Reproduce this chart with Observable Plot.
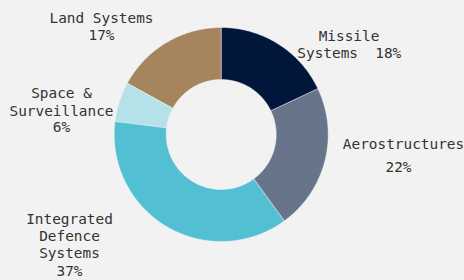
<!DOCTYPE html>
<html><head><meta charset="utf-8">
<script src="https://cdn.jsdelivr.net/npm/d3@7"></script>
<script src="https://cdn.jsdelivr.net/npm/@observablehq/plot@0.6"></script>
<style>
html,body{margin:0;padding:0;background:#f2f2f2;}
#chart svg{display:block;white-space:pre;}
</style>
</head><body><div id="chart"></div>
<script>
// Data (clockwise from 12 o'clock)
const categories = ["Missile Systems", "Aerostructures", "Integrated Defence Systems", "Space & Surveillance", "Land Systems"];
const shares = [18, 22, 37, 6, 17];
const sliceColors = ["#00163a", "#67748a", "#52bfd2", "#b5e1e8", "#a6845d"];

// Label text lines (layout kept separate from the data)
const labelLines = [
  {text: "Missile", x: 348.5, y: 40.7},
  {text: `Systems  ${shares[0]}%`, x: 348.8, y: 57.5},
  {text: "Aerostructures", x: 403, y: 148},
  {text: `${shares[1]}%`, x: 398, y: 171},
  {text: "Integrated", x: 69, y: 223.5},
  {text: "Defence", x: 69, y: 240.5},
  {text: "Systems", x: 69, y: 257.5},
  {text: `${shares[2]}%`, x: 69, y: 275},
  {text: "Space &", x: 61, y: 97.7},
  {text: "Surveillance", x: 61, y: 115},
  {text: `${shares[3]}%`, x: 61, y: 131.7},
  {text: "Land Systems", x: 101, y: 22.7},
  {text: `${shares[4]}%`, x: 101, y: 39.3}
];

const W = 464, H = 280, cx = 220.7, cy = 134, rOuter = 107, rInner = 55;
const total = d3.sum(shares);
const polys = [];
let acc = 0;
categories.forEach((c, i) => {
  const a0 = acc / total * 2 * Math.PI;
  acc += shares[i];
  const a1 = acc / total * 2 * Math.PI;
  const n = Math.max(2, Math.ceil((a1 - a0) / (Math.PI / 360)));
  for (let k = 0; k <= n; k++) {
    const a = a0 + (a1 - a0) * k / n;
    polys.push({cat: c, px: cx + rOuter * Math.sin(a), py: cy - rOuter * Math.cos(a)});
  }
  for (let k = n; k >= 0; k--) {
    const a = a0 + (a1 - a0) * k / n;
    polys.push({cat: c, px: cx + rInner * Math.sin(a), py: cy - rInner * Math.cos(a)});
  }
});

const chart = Plot.plot({
  width: W,
  height: H,
  margin: 0,
  x: {domain: [0, W], range: [0, W], axis: null},
  y: {domain: [0, H], range: [0, H], axis: null},
  color: {domain: categories, range: sliceColors},
  style: {background: "#f2f2f2", fontFamily: "'DejaVu Sans Mono', monospace", fontSize: "14.4px", color: "#333"},
  marks: [
    Plot.line(polys, {x: "px", y: "py", z: "cat", fill: "cat", stroke: "#f2f2f2", strokeWidth: 0.5, curve: "linear-closed"}),
    Plot.text(labelLines, {x: "x", y: "y", text: "text", textAnchor: "middle", lineAnchor: "bottom", fill: "#333"})
  ]
});
document.getElementById("chart").appendChild(chart);
</script>
</body></html>
